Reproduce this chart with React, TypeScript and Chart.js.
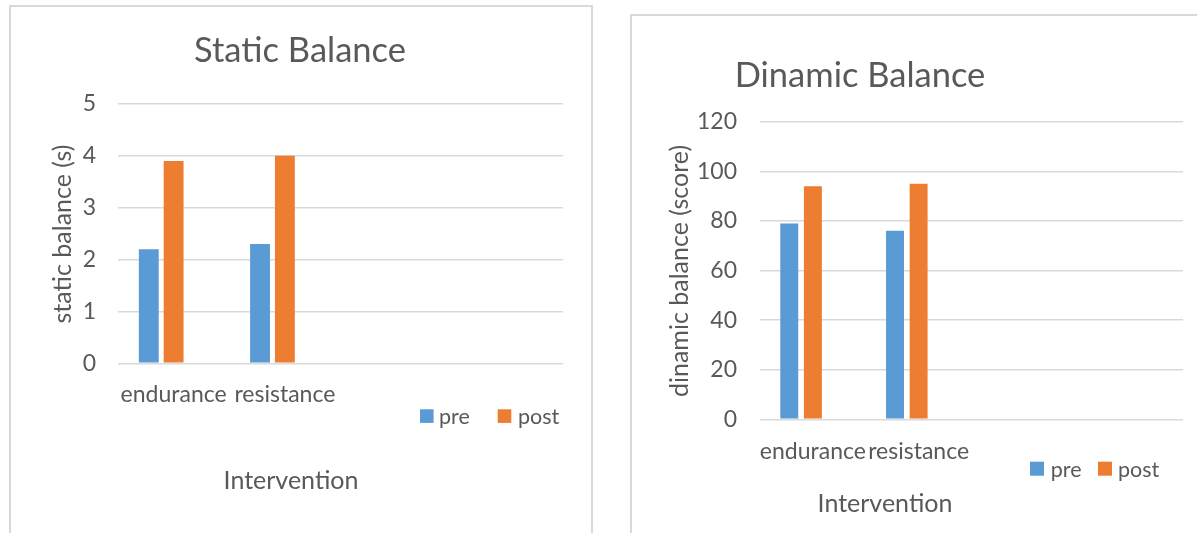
import { useEffect, useRef } from "react";
import { Chart, registerables } from "chart.js";

Chart.register(...registerables);

// ---- data ----
const categories = ["endurance", "resistance", "", ""];
const seriesLabels = ["pre", "post", ""];
const seriesColors = ["#5B9BD5", "#ED7D31", "#A5A5A5"];

const staticPre = [2.2, 2.3, null, null];
const staticPost = [3.9, 4.0, null, null];
const staticThird = [null, null, null, null];
const staticTicks = [0, 1, 2, 3, 4, 5];

const dynamicPre = [79, 76, null, null];
const dynamicPost = [94, 95, null, null];
const dynamicThird = [null, null, null, null];
const dynamicTicks = [0, 20, 40, 60, 80, 100, 120];

const staticTitle = "Static Balance";
const dynamicTitle = "Dinamic Balance";
const staticYTitle = "static balance (s)";
const dynamicYTitle = "dinamic balance (score)";
const xTitle = "Intervention";

const FONT = "Lato";
const TEXT = "#595959";
const GRID = "#d9d9d9";

type Panel = {
  left: number; top: number; w: number; h: number;
  padTop: number; padRight: number; yAxisWidth: number; xAxisHeight: number;
  yPad: number; xPad: number; barPct: number;
  tickSize: number; titleSize: number; axisTitleSize: number; legendSize: number;
  title: string; titleX: number; titleY: number;
  yTitle: string; yTitleX: number; yTitleY: number;
  xTitleX: number; xTitleY: number;
  legendSquares: number[]; legendTexts: number[]; legendSqY: number; legendSq: number; legendBase: number;
  borderRight: boolean;
  series: (number | null)[][];
  ticks: number[];
};

const panels: Panel[] = [
  {
    left: 9, top: 5, w: 584, h: 528,
    padTop: 99, padRight: 30, yAxisWidth: 109, xAxisHeight: 169.7,
    yPad: 22, xPad: 9.5, barPct: 0.8,
    tickSize: 23, titleSize: 34.5, axisTitleSize: 25, legendSize: 21.5,
    title: staticTitle, titleX: 291, titleY: 56.7,
    yTitle: staticYTitle, yTitleX: 54, yTitleY: 229,
    xTitleX: 282, xTitleY: 484.3,
    legendSquares: [411, 488.7], legendTexts: [430, 509], legendSqY: 404.3, legendSq: 13.6, legendBase: 419,
    borderRight: true,
    series: [staticPre, staticPost, staticThird],
    ticks: staticTicks,
  },
  {
    left: 630, top: 14, w: 567, h: 519,
    padTop: 107.7, padRight: 14, yAxisWidth: 130, xAxisHeight: 113.7,
    yPad: 23, xPad: 10.5, barPct: 0.76,
    tickSize: 23, titleSize: 34.5, axisTitleSize: 25, legendSize: 21.5,
    title: dynamicTitle, titleX: 230, titleY: 73,
    yTitle: dynamicYTitle, yTitleX: 50, yTitleY: 257,
    xTitleX: 255, xTitleY: 498,
    legendSquares: [400, 468], legendTexts: [420.7, 488], legendSqY: 447.7, legendSq: 14, legendBase: 462.7,
    borderRight: false,
    series: [dynamicPre, dynamicPost, dynamicThird],
    ticks: dynamicTicks,
  },
];

function makeDecor(p: Panel) {
  return {
    id: "decor",
    afterDraw(chart: any) {
      const ctx: CanvasRenderingContext2D = chart.ctx;
      ctx.save();
      // frame
      ctx.strokeStyle = GRID;
      ctx.lineWidth = 2;
      ctx.beginPath();
      ctx.moveTo(1, p.h);
      ctx.lineTo(1, 1);
      if (p.borderRight) {
        ctx.lineTo(p.w - 1, 1);
        ctx.lineTo(p.w - 1, p.h);
      } else {
        ctx.lineTo(p.w, 1);
      }
      ctx.stroke();

      ctx.fillStyle = TEXT;
      // title
      ctx.font = `${p.titleSize}px ${FONT}`;
      ctx.textAlign = "center";
      ctx.textBaseline = "alphabetic";
      ctx.fillText(p.title, p.titleX, p.titleY);

      // x axis title
      ctx.font = `${p.axisTitleSize}px ${FONT}`;
      ctx.fillText(xTitle, p.xTitleX, p.xTitleY);

      // y axis title
      ctx.save();
      ctx.translate(p.yTitleX, p.yTitleY);
      ctx.rotate(-Math.PI / 2);
      ctx.textBaseline = "middle";
      ctx.fillText(p.yTitle, 0, 0);
      ctx.restore();

      // legend (first two series)
      ctx.font = `${p.legendSize}px ${FONT}`;
      ctx.textAlign = "left";
      ctx.textBaseline = "alphabetic";
      chart.data.datasets.slice(0, 2).forEach((ds: any, i: number) => {
        ctx.fillStyle = ds.backgroundColor;
        ctx.fillRect(p.legendSquares[i], p.legendSqY, p.legendSq, p.legendSq);
        ctx.fillStyle = TEXT;
        ctx.fillText(ds.label, p.legendTexts[i], p.legendBase);
      });
      ctx.restore();
    },
  };
}

function BarPanel({ p }: { p: Panel }) {
  const ref = useRef<HTMLCanvasElement>(null);
  useEffect(() => {
    const chart = new Chart(ref.current as HTMLCanvasElement, {
      type: "bar",
      data: {
        labels: categories,
        datasets: p.series.map((d, i) => ({
          label: seriesLabels[i],
          data: d,
          backgroundColor: seriesColors[i],
          borderWidth: 0,
          categoryPercentage: 0.67,
          barPercentage: p.barPct,
        })),
      },
      options: {
        responsive: false,
        animation: false,
        events: [],
        layout: { padding: { top: p.padTop, right: p.padRight, left: 0, bottom: 0 } },
        plugins: { legend: { display: false }, title: { display: false }, tooltip: { enabled: false } },
        scales: {
          x: {
            grid: { display: false },
            border: { display: false },
            ticks: { color: TEXT, font: { family: FONT, size: p.tickSize }, padding: p.xPad, maxRotation: 0, autoSkip: false },
            afterFit: (s: any) => { s.height = p.xAxisHeight; },
          },
          y: {
            min: p.ticks[0],
            max: p.ticks[p.ticks.length - 1],
            afterBuildTicks: (s: any) => { s.ticks = p.ticks.map((v) => ({ value: v })); },
            grid: { color: GRID, lineWidth: 1.5, drawTicks: false },
            border: { display: false },
            ticks: { color: TEXT, font: { family: FONT, size: p.tickSize }, padding: p.yPad },
            afterFit: (s: any) => { s.width = p.yAxisWidth; },
          },
        },
      },
      plugins: [makeDecor(p)],
    } as any);
    return () => chart.destroy();
  }, []);
  return (
    <canvas
      ref={ref}
      width={p.w}
      height={p.h}
      style={{ position: "absolute", left: p.left, top: p.top, width: p.w, height: p.h }}
    />
  );
}

export default function App() {
  return (
    <div style={{ position: "absolute", left: 0, top: 0, width: 1197, height: 533, overflow: "hidden", background: "#fff" }}>
      {panels.map((p, i) => (
        <BarPanel key={i} p={p} />
      ))}
    </div>
  );
}
